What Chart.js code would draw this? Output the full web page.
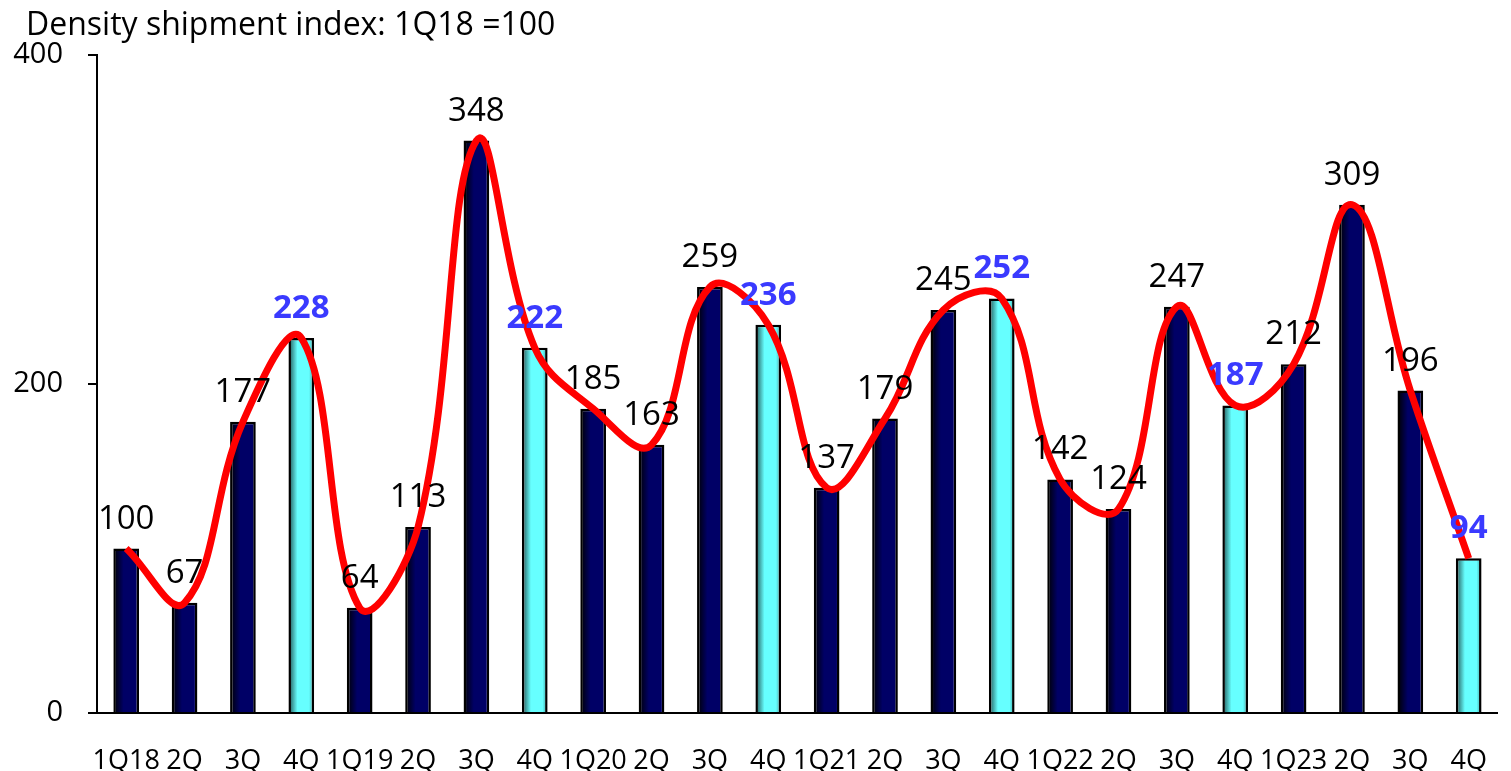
<!DOCTYPE html>
<html>
<head>
<meta charset="utf-8">
<script src="https://cdn.jsdelivr.net/npm/chart.js@4"></script>
<style>
  html, body { margin: 0; padding: 0; background: #fff; }
  #wrap { width: 1511px; height: 771px; }
</style>
</head>
<body>
<div id="wrap"><canvas id="densityChart"></canvas></div>
<script>
const quarters = ['1Q18', '2Q', '3Q', '4Q', '1Q19', '2Q', '3Q', '4Q', '1Q20', '2Q', '3Q', '4Q',
                  '1Q21', '2Q', '3Q', '4Q', '1Q22', '2Q', '3Q', '4Q', '1Q23', '2Q', '3Q', '4Q'];
const shipments = [100, 67, 177, 228, 64, 113, 348, 222, 185, 163, 259, 236,
                   137, 179, 245, 252, 142, 124, 247, 187, 212, 309, 196, 94];
const yTicks = [0, 200, 400];
const titleText = 'Density shipment index: 1Q18 =100';

const FONT = "'Open Sans', 'Noto Sans', sans-serif";
const isQ4 = i => quarters[i] === '4Q';

// horizontal shading across each bar
function barFill(context) {
  const i = context.dataIndex;
  const el = context.chart.getDatasetMeta(context.datasetIndex).data[i];
  const solid = isQ4(i) ? '#66ffff' : '#000066';
  if (!el || !el.width || isNaN(el.x)) return solid;
  const g = context.chart.ctx.createLinearGradient(el.x - el.width / 2, 0, el.x + el.width / 2, 0);
  if (isQ4(i)) {
    g.addColorStop(0, '#1f4f4f');
    g.addColorStop(0.35, '#66ffff');
    g.addColorStop(0.8, '#66ffff');
    g.addColorStop(1, '#3c9a9a');
  } else {
    g.addColorStop(0, '#000000');
    g.addColorStop(0.4, '#000066');
    g.addColorStop(1, '#000066');
  }
  return g;
}

const valueLabels = {
  id: 'valueLabels',
  afterDatasetsDraw(chart) {
    const ctx = chart.ctx;
    const bars = chart.getDatasetMeta(1).data;
    ctx.save();
    ctx.textAlign = 'center';
    ctx.textBaseline = 'alphabetic';
    bars.forEach((bar, i) => {
      ctx.font = (isQ4(i) ? 'bold ' : '') + '33px ' + FONT;
      ctx.fillStyle = isQ4(i) ? '#3a3aff' : '#000000';
      ctx.fillText(String(shipments[i]), bar.x, bar.y - 20);
    });
    ctx.restore();
  }
};

const topTitle = {
  id: 'topTitle',
  afterDraw(chart) {
    const ctx = chart.ctx;
    ctx.save();
    ctx.font = '32px ' + FONT;
    ctx.fillStyle = '#000';
    ctx.textAlign = 'left';
    ctx.textBaseline = 'alphabetic';
    ctx.fillText(titleText, 26, 35);
    ctx.restore();
  }
};

const chart = new Chart(document.getElementById('densityChart'), {
  type: 'bar',
  data: {
    labels: quarters,
    datasets: [{
      type: 'line',
      label: 'Trend',
      data: shipments,
      borderColor: '#ff0000',
      borderWidth: 7,
      pointRadius: 0,
      tension: 0.4,
      fill: false,
      order: 0
    }, {
      type: 'bar',
      label: 'Shipment index',
      data: shipments,
      backgroundColor: barFill,
      borderColor: '#000000',
      borderWidth: 2.5,
      barPercentage: 0.88,
      categoryPercentage: 0.5,
      order: 1
    }]
  },
  options: {
    responsive: true,
    maintainAspectRatio: false,
    animation: false,
    layout: { padding: { top: 55, right: 0, bottom: 0, left: 0 } },
    plugins: {
      legend: { display: false },
      tooltip: { enabled: false }
    },
    scales: {
      x: {
        grid: { display: false },
        border: { display: true, color: '#000', width: 2 },
        ticks: {
          color: '#000',
          font: { family: FONT, size: 27 },
          padding: 24,
          maxRotation: 0,
          autoSkip: false
        },
        afterFit(scale) { scale.height = 58; }
      },
      y: {
        min: 0,
        max: 400,
        afterBuildTicks(scale) { scale.ticks = yTicks.map(v => ({ value: v })); },
        grid: { drawOnChartArea: false, drawTicks: true, tickLength: 9, color: '#000', lineWidth: 2 },
        border: { display: true, color: '#000', width: 2 },
        ticks: {
          color: '#000',
          font: { family: FONT, size: 29 },
          padding: 25
        },
        afterFit(scale) { scale.width = 97; }
      }
    }
  },
  plugins: [valueLabels, topTitle]
});

// bars now have positions, so the gradient can be built
chart.update('none');
</script>
</body>
</html>
